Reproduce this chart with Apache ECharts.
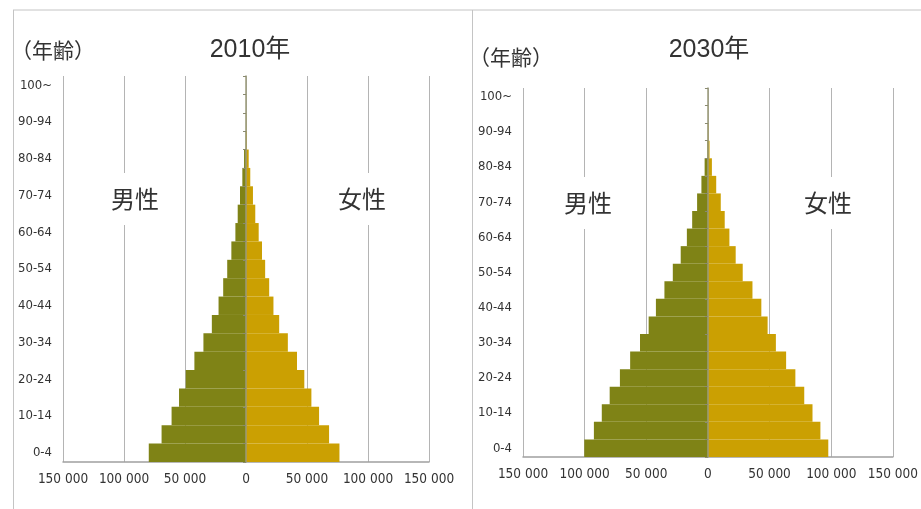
<!DOCTYPE html>
<html>
<head>
<meta charset="utf-8">
<script src="https://cdn.jsdelivr.net/npm/echarts@6/dist/echarts.min.js"></script>
<style>
    html, body { margin: 0; padding: 0; background: #fff; }
    #pyramid { width: 921px; height: 509px; }
</style>
</head>
<body>
<div id="pyramid"></div>
<script>
// 年齢階級
let ages = ['0-4', '5-9', '10-14', '15-19', '20-24', '25-29', '30-34', '35-39', '40-44', '45-49',
    '50-54', '55-59', '60-64', '65-69', '70-74', '75-79', '80-84', '85-89', '90-94', '95-99', '100~'];

// 2010年
let male2010 = [79700, 69200, 61000, 54900, 49400, 42300, 34900, 28000, 22500, 18700,
    15400, 12000, 8700, 6800, 4900, 3000, 1600, 300, 100, 0, 0];
let female2010 = [76600, 68100, 59900, 53600, 47800, 41800, 34300, 27200, 22500, 19000,
    15700, 13100, 10400, 7600, 5700, 3500, 2200, 600, 200, 50, 0];

// 2030年
let male2030 = [100300, 92500, 86100, 79700, 71400, 63100, 55100, 48100, 42200, 35300,
    28500, 22100, 17100, 12800, 8800, 5300, 2700, 600, 200, 0, 0];
let female2030 = [97600, 91200, 84800, 78100, 70900, 63400, 55100, 48400, 43300, 36100,
    28200, 22500, 17400, 13600, 10400, 6700, 3200, 1300, 400, 100, 0];

let ticks = [-150000, -100000, -50000, 0, 50000, 100000, 150000];

let narrow = '"DejaVu Sans Condensed", "Liberation Sans Narrow", sans-serif';
let cjk = '"Liberation Sans", "Noto Sans CJK JP", sans-serif';
let jp = '"Noto Sans CJK JP", sans-serif';
let maleColor = '#7f8316';
let femaleColor = '#cba002';

function fmt(v) {
    v = Math.abs(v);
    if (v === 0) return '0';
    return Math.floor(v / 1000) + ' 000';
}

function valueAxis(idx) {
    return {
        type: 'value',
        gridIndex: idx,
        min: ticks[0],
        max: ticks[ticks.length - 1],
        interval: 50000,
        axisLine: {show: true, lineStyle: {color: '#a0a0a0', width: 1.5}},
        axisTick: {show: false},
        splitLine: {show: true, lineStyle: {color: '#b4b4b4', width: 1}},
        axisLabel: {
            color: '#333',
            fontFamily: narrow,
            fontSize: 13.5,
            margin: 10,
            formatter: fmt
        }
    };
}

function labelAxis(idx) {
    return {
        type: 'category',
        gridIndex: idx,
        data: ages,
        axisLine: {show: false, onZero: false},
        axisTick: {show: false},
        axisLabel: {
            interval: 1,
            color: '#333',
            fontFamily: narrow,
            fontSize: 13,
            margin: 11
        }
    };
}

function zeroAxis(idx) {
    return {
        type: 'category',
        gridIndex: idx,
        data: ages,
        axisLine: {show: true, onZero: true, lineStyle: {color: '#9a9a7a', width: 1.5}},
        axisTick: {show: true, inside: true, length: 3, lineStyle: {color: '#8a8a70'}},
        axisLabel: {show: false},
        z: 5
    };
}

function bars(name, data, idx, yIdx, color, sign) {
    return {
        name: name,
        type: 'bar',
        xAxisIndex: idx,
        yAxisIndex: yIdx,
        barGap: '-100%',
        barCategoryGap: '0%',
        itemStyle: {color: color},
        data: data.map(function (v) { return sign * v; })
    };
}

function label(text, x, y, size, family, boxed) {
    let t = {
        type: 'text',
        x: x,
        y: y,
        z: 100,
        style: {
            text: text,
            fill: '#333',
            font: size + 'px ' + family,
            align: 'center',
            verticalAlign: 'middle'
        }
    };
    if (boxed) {
        t.style.backgroundColor = '#fff';
        t.style.padding = [14, 6];
    }
    return t;
}

function vline(x) {
    return {type: 'line', z: 100, shape: {x1: x, y1: 10, x2: x, y2: 509}, style: {stroke: '#c4c4c4', lineWidth: 1}};
}

let myChart = echarts.init(document.getElementById('pyramid'));
let option = {
    animation: false,
    backgroundColor: '#fff',
    grid: [
        {left: 63, right: 492, top: 76, bottom: 47},
        {left: 523, right: 27, top: 88, bottom: 52}
    ],
    xAxis: [valueAxis(0), valueAxis(1)],
    yAxis: [labelAxis(0), zeroAxis(0), labelAxis(1), zeroAxis(1)],
    series: [
        bars('男性', male2010, 0, 0, maleColor, -1),
        bars('女性', female2010, 0, 0, femaleColor, 1),
        bars('男性', male2030, 1, 2, maleColor, -1),
        bars('女性', female2030, 1, 2, femaleColor, 1)
    ],
    graphic: [
        {type: 'line', z: 100, shape: {x1: 13, y1: 10, x2: 921, y2: 10}, style: {stroke: '#c4c4c4', lineWidth: 1}},
        vline(13.5),
        vline(472.5),
        label('（年齢）', 53, 50, 21, jp, false),
        label('2010年', 250, 50, 25, cjk, false),
        label('男性', 135, 199, 24, jp, true),
        label('女性', 362, 199, 24, jp, true),
        label('（年齢）', 511, 57, 21, jp, false),
        label('2030年', 709, 50, 25, cjk, false),
        label('男性', 588, 203, 24, jp, true),
        label('女性', 828, 203, 24, jp, true)
    ]
};
myChart.setOption(option);
</script>
</body>
</html>
